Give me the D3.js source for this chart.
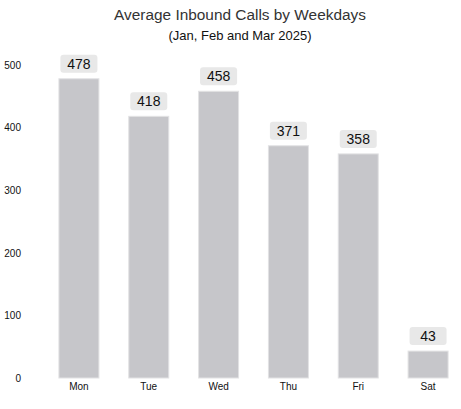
<!DOCTYPE html>
<html><head><meta charset="utf-8">
<script src="https://cdn.jsdelivr.net/npm/d3@7"></script>
<style>body{margin:0;background:#fff;font-family:Arial,"Liberation Sans",sans-serif}</style>
</head><body>
<svg id="chart" width="461" height="409"></svg>
<script>
const categories = ["Mon","Tue","Wed","Thu","Fri","Sat"];
const values = [478, 418, 458, 371, 358, 43];
const yTicks = [0, 100, 200, 300, 400, 500];

const svg = d3.select("#chart");
const x = d3.scaleBand().domain(categories).range([44, 463]).paddingInner(0.427).paddingOuter(0.2135);
const y = d3.scaleLinear().domain([0, 500]).range([378, 65]);

svg.append("text").attr("x", 240).attr("y", 20).attr("text-anchor","middle")
  .attr("font-size", 15.4).attr("fill", "#333").text("Average Inbound Calls by Weekdays");
svg.append("text").attr("x", 240).attr("y", 40).attr("text-anchor","middle")
  .attr("font-size", 13).attr("fill", "#111").text("(Jan, Feb and Mar 2025)");

const yAxis = svg.append("g").attr("transform","translate(21,0)")
  .call(d3.axisLeft(y).tickValues(yTicks).tickSize(0).tickPadding(0));
yAxis.select(".domain").remove();
yAxis.selectAll("text").attr("font-size", 10).attr("fill", "#111").attr("font-family","Arial,'Liberation Sans',sans-serif");

const xAxis = svg.append("g").attr("transform","translate(0,383)")
  .call(d3.axisBottom(x).tickSize(0).tickPadding(0));
xAxis.select(".domain").remove();
xAxis.selectAll("text").attr("font-size", 10).attr("fill", "#111").attr("dy","0.71em").attr("font-family","Arial,'Liberation Sans',sans-serif");

const data = categories.map((c,i)=>({c, v: values[i]}));
svg.selectAll("rect.bar").data(data).join("rect").attr("class","bar")
  .attr("x", d=>x(d.c)).attr("width", x.bandwidth())
  .attr("y", d=>y(d.v)).attr("height", d=>y(0)-y(d.v))
  .attr("fill", "#c6c6ca").attr("stroke","#e2e2e4").attr("stroke-width",1);

const lbl = svg.selectAll("g.lbl").data(data).join("g").attr("class","lbl")
  .attr("transform", d=>`translate(${x(d.c)+x.bandwidth()/2},${y(d.v)-15})`);
lbl.append("rect").attr("x",-18.5).attr("y",-9).attr("width",37).attr("height",18)
  .attr("rx",3).attr("fill","#e8e8e8");
lbl.append("text").attr("text-anchor","middle").attr("dy","0.36em")
  .attr("font-size",14).attr("fill","#111").text(d=>d.v);
</script>
</body></html>
